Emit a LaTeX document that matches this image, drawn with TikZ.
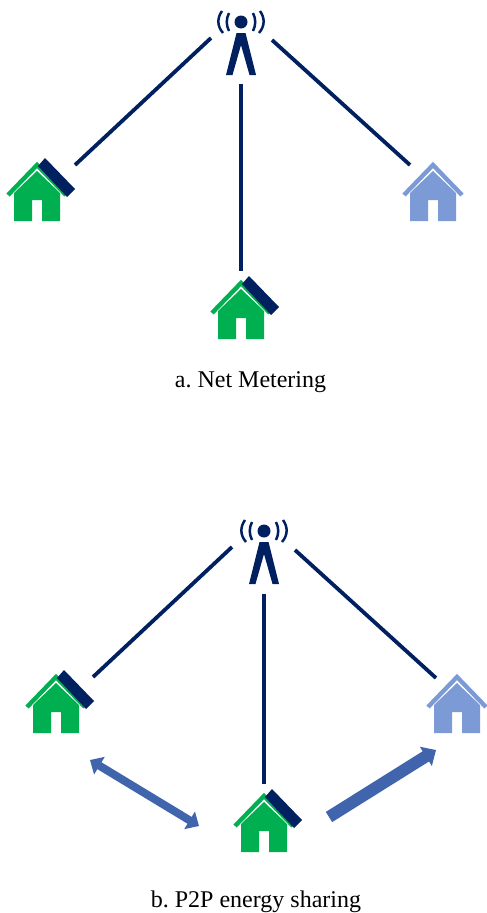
\documentclass[tikz,border=0pt]{standalone}
\usepackage{fontspec}
\setmainfont{Liberation Serif}
\usetikzlibrary{arrows.meta}
\definecolor{navy}{HTML}{002060}
\definecolor{homegreen}{HTML}{00B050}
\definecolor{homeblue}{HTML}{7C9BD6}
\definecolor{flowblue}{HTML}{4065AC}
\tikzset{
	wire/.style={draw=navy,line width=3.8pt},
	flow/.style={draw=flowblue,line width=#1},
	caption/.style={font=\fontsize{24}{28}\selectfont,text=black,inner sep=0pt},
	pics/home/.style={code={
		\draw [draw=#1,line width=4.4pt] (-29,-26) -- (0,-56) -- (29,-26);
		\fill [#1] (-23,0) -- (-23,-28) -- (0,-50) -- (23,-28) -- (23,0) -- (5,0) -- (5,-21) -- (-5,-21) -- (-5,0) -- cycle;
	}},
	pics/panel/.style={code={
		\fill [navy] (8,-63) -- (38,-32) -- (30,-24) -- (1,-55) -- cycle;
	}},
	pics/tower/.style={code={
		\fill [navy] (0,0) circle (6.5);
		\fill [navy] (-4.5,11) -- (4.5,11) -- (15,53) -- (8.5,53) -- (0,23) -- (-8.5,53) -- (-15,53) -- cycle;
		\draw [navy,line width=2.5pt] (-12,-9) .. controls (-15,-3) and (-15,3) .. (-12,9);
		\draw [navy,line width=2.5pt] (-19,-11) .. controls (-24,-4) and (-24,4) .. (-18,11);
		\draw [navy,line width=2.5pt] (12,-9) .. controls (15,-3) and (15,3) .. (12,9);
		\draw [navy,line width=2.5pt] (19,-11) .. controls (24,-4) and (24,4) .. (18,11);
	}}
}
\begin{document}
\begin{tikzpicture}[x=1pt,y=-1pt]
	\useasboundingbox (0,0) rectangle (487,913);
	\pic at (241,22) {tower};
	\pic at (37,221) {home=homegreen};
	\pic at (37,221) {panel};
	\pic at (241,339) {home=homegreen};
	\pic at (241,339) {panel};
	\pic at (433,221) {home=homeblue};
	\coordinate (wireAa) at (211,38);
	\coordinate (wireAb) at (75,165);
	\coordinate (wireBa) at (241,84);
	\coordinate (wireBb) at (241,271);
	\coordinate (wireCa) at (272,40);
	\coordinate (wireCb) at (410,165);
	\draw [wire] (wireAa) -- (wireAb);
	\draw [wire] (wireBa) -- (wireBb);
	\draw [wire] (wireCa) -- (wireCb);
	\node [caption] (captionA) at (250.5,382) {a.\ Net Metering};
	\pic at (264,531) {tower};
	\pic at (56,733) {home=homegreen};
	\pic at (56,733) {panel};
	\pic at (264,852) {home=homegreen};
	\pic at (264,852) {panel};
	\pic at (457,733) {home=homeblue};
	\coordinate (wireDa) at (232,547);
	\coordinate (wireDb) at (93,677);
	\coordinate (wireEa) at (264,594);
	\coordinate (wireEb) at (264,784);
	\coordinate (wireFa) at (295,550);
	\coordinate (wireFb) at (436,678);
	\draw [wire] (wireDa) -- (wireDb);
	\draw [wire] (wireEa) -- (wireEb);
	\draw [wire] (wireFa) -- (wireFb);
	\coordinate (flowAa) at (90,760);
	\coordinate (flowAb) at (199,826);
	\coordinate (flowBa) at (329,817);
	\coordinate (flowBb) at (436,750);
	\draw [flow=8pt,{Triangle[width=20pt,length=11pt]}-{Triangle[width=20pt,length=11pt]}] (flowAa) -- (flowAb);
	\draw [flow=12pt,-{Triangle[width=22pt,length=12pt]}] (flowBa) -- (flowBb);
	\node [caption] (captionB) at (256,902) {b.\ P2P energy sharing};
\end{tikzpicture}
\end{document}
